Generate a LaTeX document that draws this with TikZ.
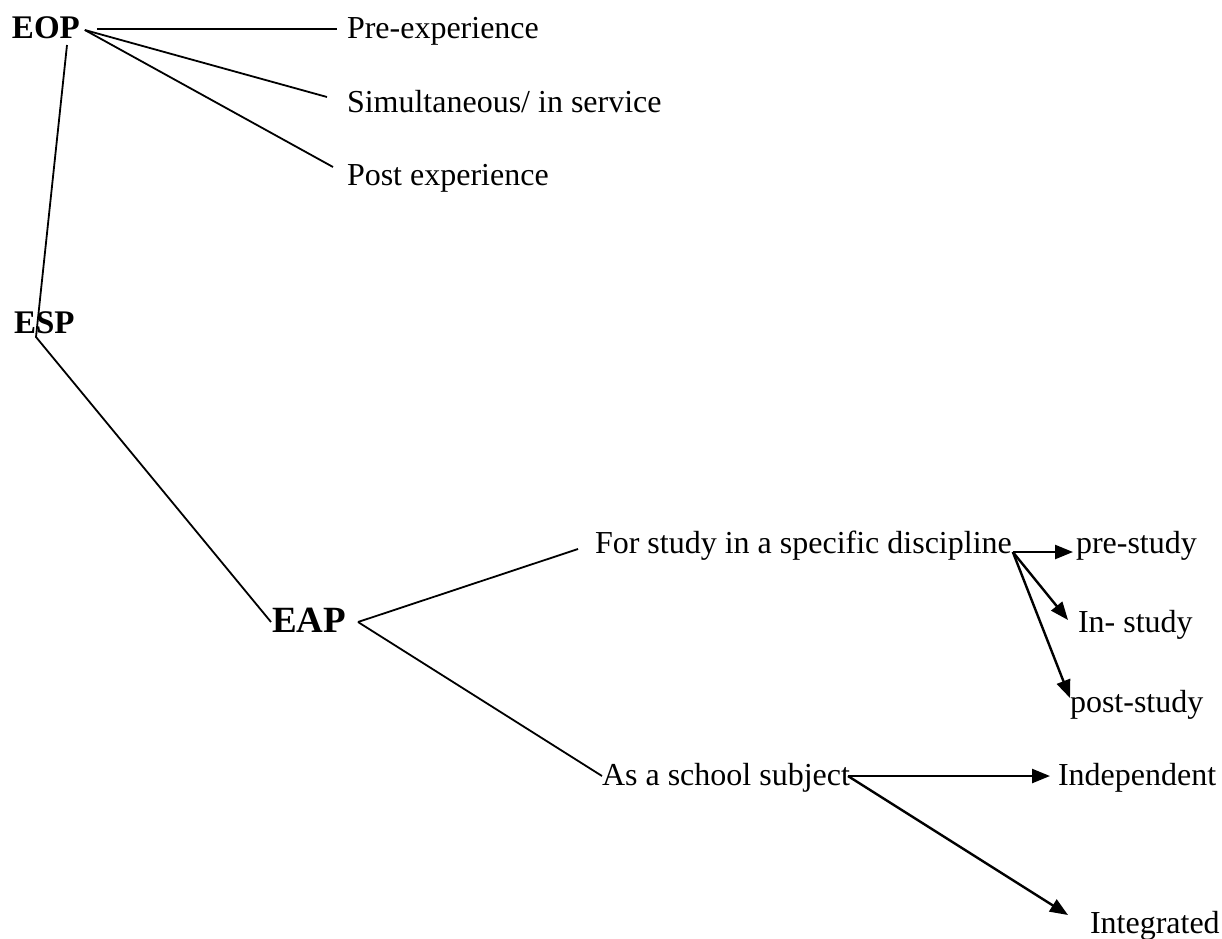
\documentclass[tikz,border=0pt]{standalone}
\usepackage{fontspec}
\setmainfont{Liberation Serif}
\usetikzlibrary{arrows.meta}
\begin{document}
\begin{tikzpicture}[x=1pt,y=-1pt,
 lbl/.style={anchor=base west,inner sep=0pt,outer sep=0pt,font=\fontsize{32}{38}\selectfont},
 head/.style={anchor=base west,inner sep=0pt,outer sep=0pt,font=\fontsize{33}{40}\selectfont\bfseries},
 bighead/.style={anchor=base west,inner sep=0pt,outer sep=0pt,font=\fontsize{37}{44}\selectfont\bfseries},
 link/.style={line width=1.8pt},
 arr/.style={line width=2.4pt,-{Triangle[length=18pt,width=14pt]}}]
\useasboundingbox (0,0) rectangle (1222,938);
% nodes
\node[head] (eop) at (12,38) {EOP};
\node[lbl] (pre) at (347,38) {Pre-experience};
\node[lbl] (sim) at (347,112) {Simultaneous/ in service};
\node[lbl] (post) at (347,185) {Post experience};
\node[head] (esp) at (14,333) {ESP};
\node[bighead] (eap) at (272,632) {EAP};
\node[lbl] (for) at (595,553) {For study in a specific discipline};
\node[lbl] (pres) at (1076,553) {pre-study};
\node[lbl] (ins) at (1078,632) {In- study};
\node[lbl] (posts) at (1070,712) {post-study};
\node[lbl] (as) at (602,785) {As a school subject};
\node[lbl] (ind) at (1058,785) {Independent};
\node[lbl] (int) at (1090,933) {Integrated};
% plain links
\draw[link] ([shift={(17,-9)}]eop.base east) -- ([shift={(-10,-9)}]pre.base west);
\draw[link] ([shift={(5,-8)}]eop.base east) -- ([shift={(-20,-15)}]sim.base west);
\draw[link] ([shift={(5,-8)}]eop.base east) -- ([shift={(-14,-18)}]post.base west);
\draw[link] ([shift={(55,7)}]eop.base west) -- ([shift={(22,4)}]esp.base west) -- ([shift={(-1,-10)}]eap.base west);
\draw[link] ([shift={(12,-10)}]eap.base east) -- ([shift={(-17,-4)}]for.base west);
\draw[link] ([shift={(12,-10)}]eap.base east) -- ([shift={(0,-9)}]as.base west);
% arrows
\draw[arr] ([shift={(1,-1)}]for.base east) -- ([shift={(-3,-1)}]pres.base west);
\draw[arr] ([shift={(1,-1)}]for.base east) -- ([shift={(-10,-12)}]ins.base west);
\draw[arr] ([shift={(1,-1)}]for.base east) -- ([shift={(0,-14)}]posts.base west);
\draw[arr] ([shift={(-2,-9)}]as.base east) -- ([shift={(-8,-9)}]ind.base west);
\draw[arr] ([shift={(-2,-9)}]as.base east) -- ([shift={(-22,-18)}]int.base west);
\end{tikzpicture}
\end{document}
